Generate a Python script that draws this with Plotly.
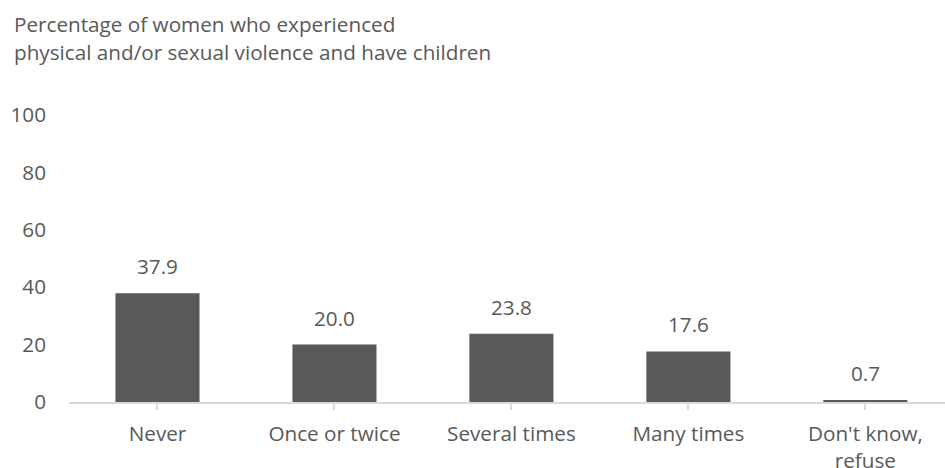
import plotly.graph_objects as go

categories = ["Never", "Once or twice", "Several times", "Many times", "Don't know,<br>refuse"]
values = [37.9, 20.0, 23.8, 17.6, 0.7]
value_labels = ["37.9", "20.0", "23.8", "17.6", "0.7"]
y_ticks = [0, 20, 40, 60, 80, 100]
title_lines = ["Percentage of women who experienced",
               "physical and/or sexual violence and have children"]

GREY_TEXT = "#595959"
BAR = "#595959"
AXIS = "#d9d9d9"
FONT = "Open Sans, Calibri, sans-serif"
FS = 20.7

PLOT_L, PLOT_T, PLOT_B = 69, 115, 66
PLOT_H = 468 - PLOT_T - PLOT_B
PLOT_W = 945 - PLOT_L

fig = go.Figure(go.Bar(
    x=list(range(len(categories))),
    y=values,
    marker=dict(color=BAR, line=dict(width=0)),
    width=0.475,
    hoverinfo="skip",
))

# value labels above each bar
for i, (v, t) in enumerate(zip(values, value_labels)):
    fig.add_annotation(x=i, y=v, text=t, showarrow=False, yshift=27,
                       font=dict(size=FS, color=GREY_TEXT, family=FONT))

# two-line heading
for k, line in enumerate(title_lines):
    fig.add_annotation(xref="paper", yref="paper",
                       x=(12 - PLOT_L) / PLOT_W, y=1 + (PLOT_T - 24 - 28 * k) / PLOT_H,
                       xanchor="left", yanchor="middle", text=line, showarrow=False,
                       font=dict(size=FS, color=GREY_TEXT, family=FONT))

fig.update_layout(
    width=945, height=468,
    margin=dict(l=PLOT_L, r=0, t=PLOT_T, b=PLOT_B),
    paper_bgcolor="white", plot_bgcolor="white",
    showlegend=False,
    font=dict(family=FONT, color=GREY_TEXT, size=FS),
    xaxis=dict(
        range=[-0.5, 4.45], automargin=False,
        tickmode="array", tickvals=list(range(len(categories))), ticktext=categories,
        tickson="boundaries", ticks="outside", ticklen=6, tickcolor=AXIS, tickwidth=1.5,
        showline=True, linecolor=AXIS, linewidth=2, layer="above traces",
        showgrid=False, zeroline=False,
        ticklabelstandoff=6,
        tickfont=dict(size=FS, color=GREY_TEXT),
    ),
    yaxis=dict(
        range=[0, 100], tickvals=y_ticks, automargin=False,
        showgrid=False, zeroline=False, showline=False, ticks="",
        ticklabelstandoff=22,
        tickfont=dict(size=FS, color=GREY_TEXT),
    ),
)

fig.write_html("out.html")
